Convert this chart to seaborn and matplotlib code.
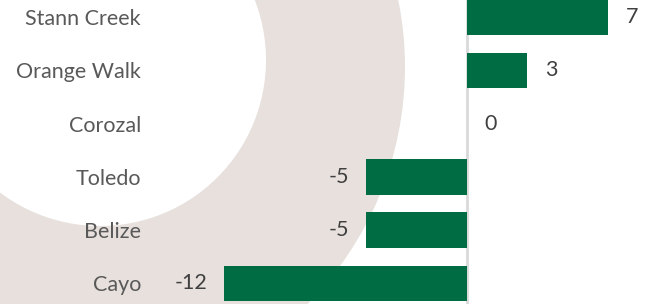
import numpy as np
import pandas as pd
import matplotlib
matplotlib.use("Agg")
import matplotlib.pyplot as plt
from matplotlib.patches import Circle
import seaborn as sns

# data
districts = ["Stann Creek", "Orange Walk", "Corozal", "Toledo", "Belize", "Cayo"]
change = [7, 3, 0, -5, -5, -12]

df = pd.DataFrame({"district": districts, "change": change})

sns.set_theme(style="white")
plt.rcParams["font.family"] = ["Lato", "DejaVu Sans"]

fig = plt.figure(figsize=(6.49, 3.04), dpi=100)

# decorative ring in the background (pixel coords)
bg = fig.add_axes([0, 0, 1, 1], zorder=0)
bg.set_xlim(0, 649)
bg.set_ylim(304, 0)
bg.axis("off")
bg.add_patch(Circle((68, 67), 337, color="#e7e0dd", lw=0))
bg.add_patch(Circle((100, 60), 166, color="white", lw=0))

left = 150 / 649
ax = fig.add_axes([left, 0, 1 - left, 1], zorder=1)
ax.patch.set_alpha(0)

ax.axvline(0, color="#d9d9d9", lw=2, zorder=0)
sns.barplot(data=df, x="change", y="district", orient="h", color="#006c44",
            saturation=1, width=0.666, linewidth=0, ax=ax, zorder=2)

fs = 15.5
for i, v in enumerate(change):
    if v >= 0:
        ax.annotate(str(v), (v, i), xytext=(13, 0), textcoords="offset points",
                    ha="left", va="center", fontsize=fs, color="#404040")
    else:
        ax.annotate(str(v), (v, i), xytext=(-12, 0), textcoords="offset points",
                    ha="right", va="center", fontsize=fs, color="#404040")

ax.set_xlim(-15.69, 9.03)
ax.set_ylim(5.385, -0.319)
ax.set_xlabel("")
ax.set_ylabel("")
ax.set_xticks([])
ax.tick_params(axis="y", length=0, pad=6.5, labelsize=fs, labelcolor="#595959")
sns.despine(ax=ax, left=True, bottom=True)

fig.savefig("out.png", dpi=100)
